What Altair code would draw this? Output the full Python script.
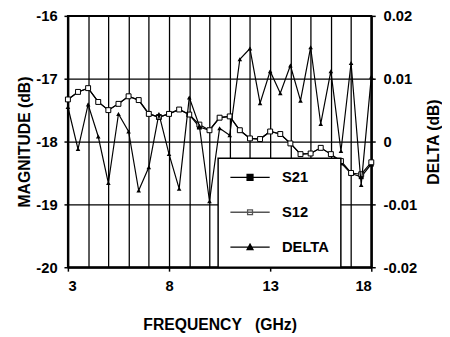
import altair as alt
import pandas as pd

freq = [3.0, 3.5, 4.0, 4.5, 5.0, 5.5, 6.0, 6.5, 7.0, 7.5, 8.0, 8.5, 9.0, 9.5, 10.0, 10.5,
        11.0, 11.5, 12.0, 12.5, 13.0, 13.5, 14.0, 14.5, 15.0, 15.5, 16.0, 16.5, 17.0, 17.5, 18.0]

s21 = [-17.33, -17.21, -17.15, -17.37, -17.50, -17.40, -17.28, -17.34, -17.56, -17.61, -17.56,
       -17.49, -17.57, -17.77, -17.82, -17.62, -17.60, -17.82, -17.95, -17.96, -17.84, -17.88,
       -18.03, -18.20, -18.19, -18.10, -18.20, -18.34, -18.51, -18.56, -18.36]

s12 = [-17.33, -17.21, -17.15, -17.37, -17.50, -17.40, -17.28, -17.34, -17.56, -17.61, -17.56,
       -17.49, -17.57, -17.73, -17.82, -17.62, -17.60, -17.82, -17.95, -17.96, -17.84, -17.88,
       -18.03, -18.20, -18.19, -18.10, -18.20, -18.31, -18.50, -18.52, -18.33]

delta = [0.0055, -0.0012, 0.0059, 0.0008, -0.0066, 0.0044, 0.0016, -0.0078, -0.0041, 0.0044,
         -0.0020, -0.0075, 0.0070, 0.0025, -0.0095, 0.0021, 0.0010, 0.0131, 0.0148, 0.0061,
         0.0112, 0.0077, 0.0121, 0.0065, 0.0150, 0.0028, 0.0112, -0.0015, 0.0125, -0.0069, 0.0103]

series_names = ["S21", "S12", "DELTA"]
x_grid = [3, 4, 5, 6, 7, 8, 9, 10, 11, 12, 13, 14, 15, 16, 17, 18]
mag_ticks = [-20, -19, -18, -17, -16]
delta_ticks = [-0.02, -0.01, 0, 0.01, 0.02]

FONT = "Liberation Sans"

mag_df = pd.DataFrame({
    "freq": freq + freq,
    "mag": s21 + s12,
    "series": ["S21"] * len(freq) + ["S12"] * len(freq),
})
s21_df = pd.DataFrame({"freq": freq, "mag": s21})
s12_df = pd.DataFrame({"freq": freq, "mag": s12})
delta_df = pd.DataFrame({"freq": freq, "delta": delta})
legend_df = pd.DataFrame({"series": series_names})

x_enc = alt.X(
    "freq:Q",
    scale=alt.Scale(domain=[3, 18], nice=False, zero=False),
    axis=alt.Axis(
        values=x_grid,
        labelExpr="(datum.value - 3) % 5 == 0 ? datum.label : ''",
        tickOpacity={"condition": {"test": "(datum.value - 3) % 5 == 0", "value": 1}, "value": 0},
        title="FREQUENCY\u00a0\u00a0\u00a0(GHz)",
        grid=True,
        labelPadding=8,
        titlePadding=23,
    ),
)

y_mag = alt.Y(
    "mag:Q",
    scale=alt.Scale(domain=[-20, -16], nice=False, zero=False),
    axis=alt.Axis(
        orient="left",
        values=mag_ticks,
        labelExpr="toString(datum.value)",
        title="MAGNITUDE (dB)",
        grid=True,
        labelPadding=7,
        titlePadding=3,
    ),
)

y_delta = alt.Y(
    "delta:Q",
    scale=alt.Scale(domain=[-0.02, 0.02], nice=False, zero=False),
    axis=alt.Axis(
        orient="right",
        values=delta_ticks,
        labelExpr="toString(datum.value)",
        title="DELTA (dB)",
        titleAngle=270,
        grid=False,
        labelPadding=8,
        titlePadding=25,
    ),
)

mag_lines = alt.Chart(mag_df).mark_line(color="black", strokeWidth=1.2).encode(
    x=x_enc, y=y_mag, detail="series:N"
)
s21_pts = alt.Chart(s21_df).mark_point(
    shape="square", size=25, filled=True, color="black", opacity=1
).encode(x=x_enc, y=y_mag)
s12_pts = alt.Chart(s12_df).mark_point(
    shape="square", size=25, fill="white", stroke="black", strokeWidth=1, opacity=1, fillOpacity=1
).encode(x=x_enc, y=y_mag)

leg = alt.Legend(
    orient="none", legendX=153, legendY=145, title=None,
    padding=12, rowPadding=19.5, symbolSize=100, symbolOffset=13, labelOffset=25,
    labelFont=FONT, labelFontSize=15, labelFontWeight="bold", labelColor="black",
    strokeColor="black", fillColor="white",
    symbolStrokeWidth=1.3, symbolOpacity=1,
)
legend_layer = alt.Chart(legend_df).mark_point(size=0, strokeWidth=1.3).encode(
    shape=alt.Shape(
        "series:N",
        scale=alt.Scale(
            domain=series_names,
            range=[
                "M-4,0H4M-0.6,-0.6H0.6V0.6H-0.6Z",
                "M-4,0H4M-0.5,-0.5H0.5V0.5H-0.5Z",
                "M-4,0H4M0,-0.6L0.6,0.5H-0.6Z",
            ],
        ),
        legend=leg,
    ),
    fill=alt.Fill(
        "series:N",
        scale=alt.Scale(domain=series_names, range=["black", "white", "black"]),
        legend=leg,
    ),
    stroke=alt.Stroke(
        "series:N",
        scale=alt.Scale(domain=series_names, range=["black", "#555555", "black"]),
        legend=leg,
    ),
)

mag_layer = alt.layer(mag_lines, s21_pts, s12_pts, legend_layer)

delta_line = alt.Chart(delta_df).mark_line(color="black", strokeWidth=1.2).encode(x=x_enc, y=y_delta)
delta_pts = alt.Chart(delta_df).mark_point(
    shape="triangle-up", size=22, filled=True, color="black", opacity=1
).encode(x=x_enc, y=y_delta)
delta_layer = alt.layer(delta_line, delta_pts)

chart = alt.layer(mag_layer, delta_layer).resolve_scale(y="independent").properties(
    width=309, height=256,
    autosize=alt.AutoSizeParams(type="none"),
    padding={"left": 61, "top": 5, "right": 72, "bottom": 66},
).configure_view(
    stroke="black", strokeWidth=2
).configure_axis(
    domainColor="black", domainWidth=2,
    gridColor="black", gridWidth=1.3, gridOpacity=1,
    tickColor="black", tickWidth=1.5, tickSize=4,
    labelFont=FONT, labelFontSize=15, labelFontWeight="bold", labelColor="black",
    titleFont=FONT, titleFontSize=16, titleFontWeight="bold", titleColor="black",
).configure_legend(
    strokeWidth=1.5
)

chart.save("out.html", embed_options={"renderer": "svg", "actions": False})
